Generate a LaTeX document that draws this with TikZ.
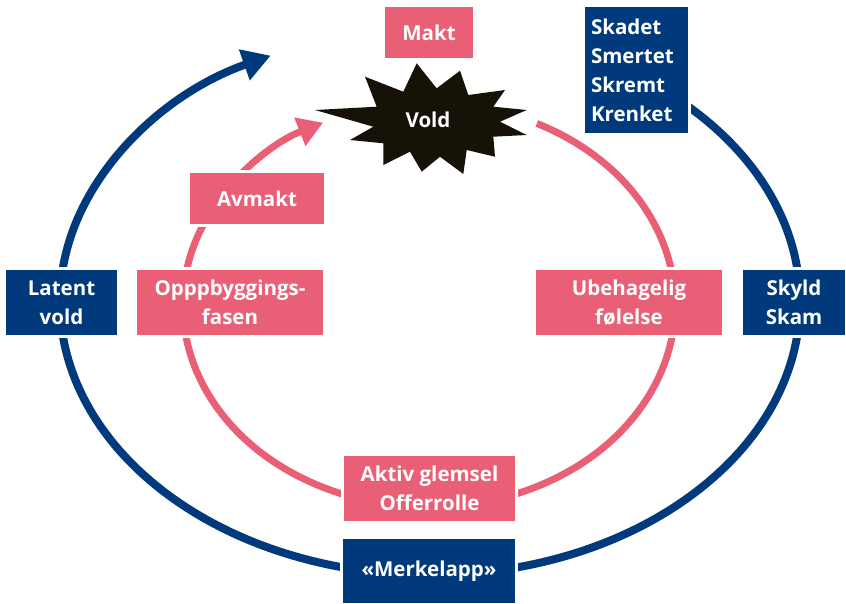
\documentclass[tikz,border=0pt]{standalone}
\usepackage{fontspec}
\setmainfont{Open Sans}
\usetikzlibrary{arrows.meta}
\definecolor{vpink}{RGB}{233,95,118}
\definecolor{vblue}{RGB}{0,58,125}
\definecolor{vblack}{RGB}{22,18,8}
\tikzset{
  boxbase/.style={inner sep=0pt, align=center, text=white,
    font=\fontsize{20.5}{29}\selectfont\bfseries,
    preaction={draw=white, line width=6pt}},
  pinkbox/.style={boxbase, fill=vpink},
  bluebox/.style={boxbase, fill=vblue},
  bluearc/.style={draw=vblue, line width=8pt, -{Triangle[length=28pt,width=31pt]}},
  pinkarc/.style={draw=vpink, line width=7pt, -{Triangle[length=25pt,width=29pt]}},
}
\begin{document}
\begin{tikzpicture}[x=1pt,y=-1pt]
\useasboundingbox (0,0) rectangle (846,603);
% cycles
\coordinate (oc) at (430,302);
\coordinate (ic) at (429,305);
\draw[bluearc] (oc) ++(-46:370 and 273) arc[start angle=-46, end angle=244.5, x radius=370, y radius=273];
\draw[pinkarc] (ic) ++(-64:246 and 202) arc[start angle=-64, end angle=244.5, x radius=246, y radius=202];
% star
\fill[vblack] (315,110) -- (376.7,106.7) -- (365,76.7) -- (403.3,91.7) -- (416.7,63.3) -- (436.7,88.3)
  -- (460,70.7) -- (468.3,95) -- (505,90) -- (493.3,106.7) -- (526.7,110) -- (500,121.7)
  -- (526.7,135) -- (493.3,136.7) -- (495,156.7) -- (466.7,150) -- (463.3,174) -- (440,156.7)
  -- (421.7,171.7) -- (410,151.7) -- (383.3,165) -- (383.3,143.3) -- (350,140) -- (373.3,126.7) -- cycle;
\node[text=white, font=\fontsize{20.5}{29}\selectfont\bfseries] (vold) at (428,120) {Vold};
% boxes
\node[pinkbox, minimum width=88pt, minimum height=51pt] (makt) at (429,32.5) {Makt};
\node[bluebox, minimum width=103pt, minimum height=126pt, align=left, text width=91pt] (skadet) at (636.5,70) {Skadet\\Smertet\\Skremt\\Krenket};
\node[pinkbox, minimum width=134pt, minimum height=51pt] (avmakt) at (257,198.5) {Avmakt};
\node[bluebox, minimum width=111pt, minimum height=65pt] (latent) at (61.5,302.5) {Latent\\vold};
\node[pinkbox, minimum width=186pt, minimum height=65pt] (oppb) at (230,302.5) {Opppbyggings-\\fasen};
\node[pinkbox, minimum width=186pt, minimum height=65pt] (ubeh) at (629,302.5) {Ubehagelig\\følelse};
\node[bluebox, minimum width=102pt, minimum height=65pt] (skyld) at (794,302.5) {Skyld\\Skam};
\node[pinkbox, minimum width=171pt, minimum height=65pt] (aktiv) at (429.5,488.5) {Aktiv glemsel\\Offerrolle};
\node[bluebox, minimum width=172pt, minimum height=64pt] (merk) at (429,571) {«Merkelapp»};
\end{tikzpicture}
\end{document}
